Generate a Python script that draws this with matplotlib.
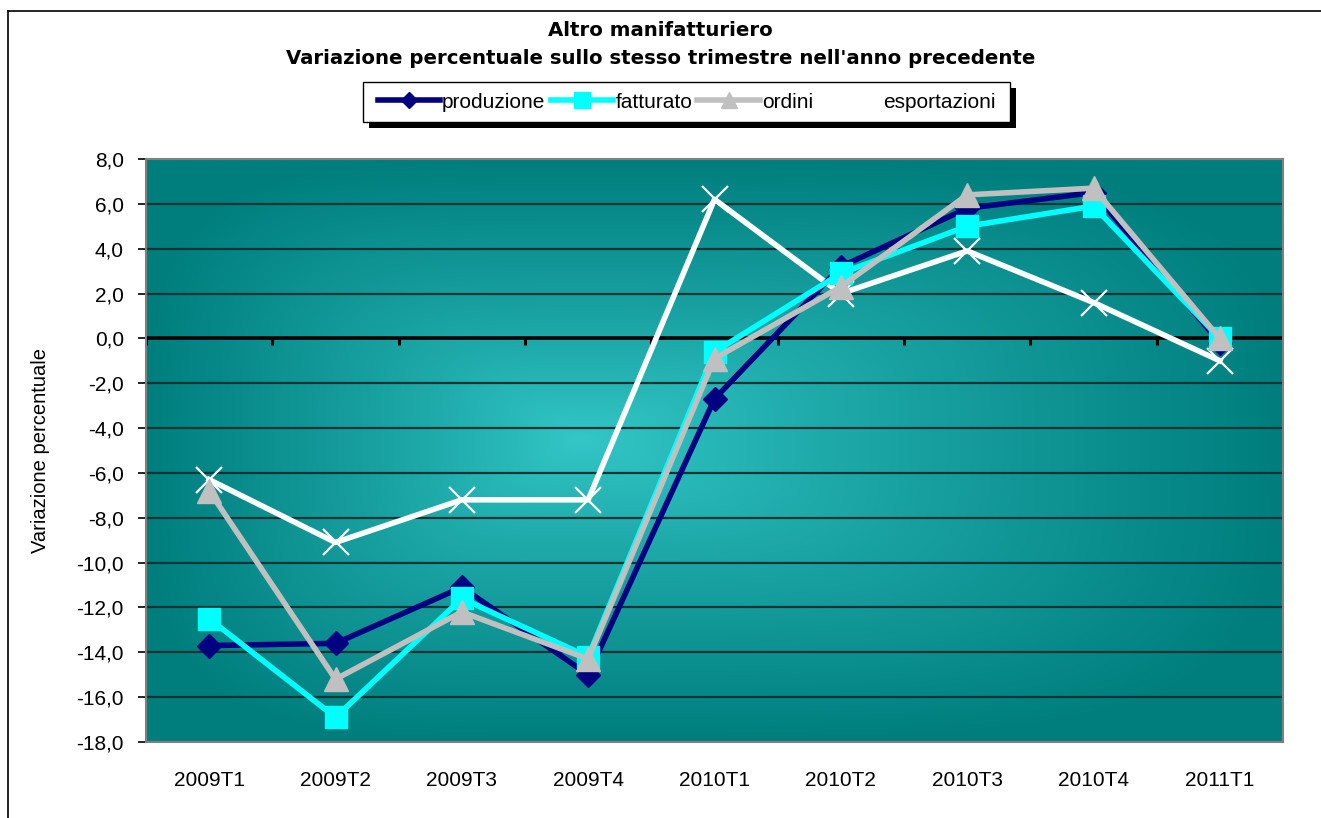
import numpy as np
import matplotlib
matplotlib.use("Agg")
import matplotlib.pyplot as plt
from matplotlib.lines import Line2D
from matplotlib.patches import Rectangle
from matplotlib.ticker import FuncFormatter

plt.rcParams['font.family'] = ['Liberation Sans', 'DejaVu Sans']

# dati
trimestri = ["2009T1", "2009T2", "2009T3", "2009T4", "2010T1",
             "2010T2", "2010T3", "2010T4", "2011T1"]
produzione = [-13.7, -13.6, -11.1, -15.0, -2.7, 3.2, 5.8, 6.5, -0.2]
fatturato = [-12.5, -16.9, -11.6, -14.2, -0.6, 2.9, 5.0, 5.9, 0.0]
ordini = [-6.8, -15.2, -12.2, -14.3, -0.9, 2.3, 6.4, 6.7, 0.0]
esportazioni = [-6.3, -9.1, -7.2, -7.2, 6.2, 2.0, 3.9, 1.6, -1.0]
yticks = [-18, -16, -14, -12, -10, -8, -6, -4, -2, 0, 2, 4, 6, 8]

W, H = 1321, 818
fig = plt.figure(figsize=(W / 100, H / 100), dpi=100)
fig.patch.set_facecolor("white")

# cornice del grafico (solo sinistra e alto visibili)
fig.add_artist(Line2D([8 / W, 8 / W], [0, 1 - 11 / H], color="black", lw=1.2))
fig.add_artist(Line2D([8 / W, 1], [1 - 11 / H, 1 - 11 / H], color="black", lw=1.2))

ax = fig.add_axes([146 / W, 76 / H, 1137 / W, 583 / H])
x = np.arange(len(trimestri))
ax.set_xlim(-0.5, len(trimestri) - 0.5)
ax.set_ylim(-18, 8)

# sfondo sfumato dal centro
gx, gy = np.meshgrid(np.linspace(0, 1, 400), np.linspace(0, 1, 400))
cx, cy = 0.38, 0.52
dx = np.where(gx < cx, (cx - gx) / cx, (gx - cx) / (1 - cx))
dy = np.where(gy < cy, (cy - gy) / cy, (gy - cy) / (1 - cy))
d = np.clip((dx ** 4 + dy ** 4) ** 0.25, 0, 1) ** 0.85
c_edge = np.array([0, 126, 126]) / 255
c_mid = np.array([52, 200, 200]) / 255
img = c_mid[None, None, :] * (1 - d[..., None]) + c_edge[None, None, :] * d[..., None]
ax.imshow(img, extent=(0, 1, 0, 1), transform=ax.transAxes, origin="lower",
          aspect="auto", zorder=0, interpolation="bilinear")

for v in yticks:
    if v != 0 and v not in (-18, 8):
        ax.axhline(v, color="#0b3535", lw=1.6, zorder=1)
ax.axhline(0, color="black", lw=2.6, zorder=2)
# tacche sull'asse dello zero fra le categorie
ax.vlines(np.arange(len(trimestri) + 1) - 0.5, -0.3, 0, color="black", lw=2.2, zorder=2)

ax.plot(x, produzione, color="#000080", lw=4, marker="D", ms=12, zorder=4, label="produzione")
ax.plot(x, fatturato, color="#00FFFF", lw=4, marker="s", ms=16, zorder=5, label="fatturato")
ax.plot(x, ordini, color="#C0C0C0", lw=4, marker="^", ms=17, zorder=6, label="ordini")
ax.plot(x, esportazioni, color="white", lw=4, marker="x", ms=19, mew=1.6, zorder=3, label="esportazioni")

for s in ax.spines.values():
    s.set_color("#808080")
    s.set_linewidth(1.5)

ax.set_yticks(yticks)
ax.yaxis.set_major_formatter(FuncFormatter(lambda v, p: f"{v:.1f}".replace(".", ",")))
ax.tick_params(axis="y", direction="out", length=6, width=1.2, color="black", labelsize=15, pad=10)
ax.set_xticks(x)
ax.set_xticklabels(trimestri)
ax.tick_params(axis="x", length=0, labelsize=15, pad=21)
ax.set_ylabel("Variazione percentuale", fontsize=14.5, labelpad=19)

fig.text(0.5, 1 - 30 / H, "Altro manifatturiero", ha="center", va="center",
         fontsize=14.2, fontweight="bold", family="DejaVu Sans")
fig.text(0.5, 1 - 59 / H, "Variazione percentuale sullo stesso trimestre nell'anno precedente",
         ha="center", va="center", fontsize=14.2, fontweight="bold", family="DejaVu Sans")

# riquadro della legenda con ombra
lx0, lx1, ly0, ly1 = 363, 1010, 82, 122
fig.add_artist(Rectangle(((lx0 + 6) / W, 1 - (ly1 + 6) / H), (lx1 - lx0) / W, (ly1 - ly0) / H,
                         transform=fig.transFigure, facecolor="black", edgecolor="none", zorder=5))
fig.add_artist(Rectangle((lx0 / W, 1 - ly1 / H), (lx1 - lx0) / W, (ly1 - ly0) / H,
                         transform=fig.transFigure, facecolor="white", edgecolor="black",
                         lw=1.0, zorder=6))
handles, labels = ax.get_legend_handles_labels()
leg = fig.legend(handles, labels, loc="center", bbox_to_anchor=((lx0 + lx1) / 2 / W, 1 - (ly0 + ly1) / 2 / H),
                 ncol=4, frameon=False, fontsize=15, handlelength=3.0, handletextpad=0.1,
                 columnspacing=0.25, markerscale=0.7, borderpad=0.2)
leg.set_zorder(7)

fig.savefig("out.png", dpi=100)
